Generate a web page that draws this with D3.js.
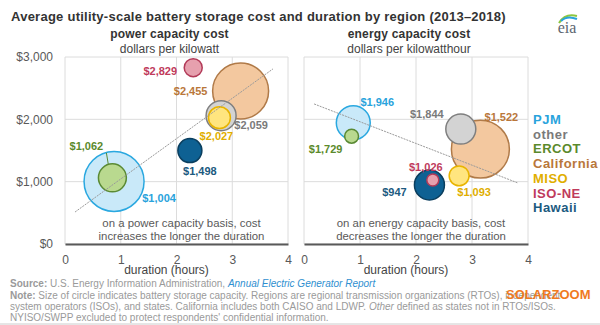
<!DOCTYPE html>
<html>
<head>
<meta charset="utf-8">
<script src="https://cdn.jsdelivr.net/npm/d3@7"></script>
<style>
  body { margin: 0; background: #fff; }
  svg { display: block; font-family: "Liberation Sans", Arial, sans-serif; }
</style>
</head>
<body>
<svg id="chart"></svg>
<script>
// data
const regions = ["PJM", "other", "ERCOT", "California", "MISO", "ISO-NE", "Hawaii"]
const duration = [0.88, 2.8, 0.85, 3.15, 2.77, 2.3, 2.24] // hours
const powerCost = [1004, 2059, 1062, 2455, 2027, 2829, 1498] // $/kW
const energyCost = [1946, 1844, 1729, 1522, 1093, 1026, 947] // $/kWh
const powerSize = [300, 75, 65, 261, 40, 27, 48] // relative capacity (bubble area)
const energySize = [96, 75, 16, 280, 33, 12, 75]
const powerTrend = [[0.18, 513], [3.73, 2809]]
const energyTrend = [[0.18, 2247], [3.82, 979]]
const xTicks = [0, 1, 2, 3, 4]
const yTicks = [0, 1000, 2000, 3000]

const fills = ["#c9e9f9", "#d3d3d3", "#b9d98f", "#f3c89f", "#ffe57f", "#e6a0ae", "#0e6193"]
const strokes = ["#2aa8e0", "#7f7f7f", "#5a8a34", "#b07a48", "#e8b400", "#b23a58", "#0a3e5e"]
const labelColors = ["#29a3dc", "#7a7a7a", "#5b8a2c", "#b9773a", "#e0ae00", "#c03b5c", "#1c5a80"]

// label offsets (px) from each bubble centre
const powerLabelOff = [[45, 17], [30, 9], [-26, -32], [-50, 0], [-3, 18], [-33, 3], [10, 20]]
const energyLabelOff = [[24, -21], [-34, -15], [-26, 13], [21, -32], [15, 16], [-7, -13], [-35, 7]]

const width = 600, height = 325
const svg = d3.select("#chart").attr("width", width).attr("height", height)

const y = d3.scaleLinear().domain([0, 3000]).range([244, 57])
const r = d3.scaleSqrt().domain([0, 300]).range([0, 30])
const money = d => "$" + d3.format(",")(d)

// title
svg.append("text").attr("x", 11).attr("y", 21)
  .attr("font-size", 13).attr("font-weight", "bold").attr("fill", "#333").attr("letter-spacing", 0.25)
  .text("Average utility-scale battery storage cost and duration by region (2013\u20132018)")

// eia logo
const logo = svg.append("g").attr("transform", "translate(567,25)")
logo.append("path").attr("d", "M-8,-2 Q-2,-12 10,-9").attr("fill", "none").attr("stroke", "#8cc63f").attr("stroke-width", 2)
logo.append("path").attr("d", "M-6,-4 Q0,-10 10,-6").attr("fill", "none").attr("stroke", "#29a3dc").attr("stroke-width", 2)
logo.append("text").attr("y", 8).attr("text-anchor", "middle")
  .attr("font-family", "Liberation Serif, serif").attr("font-size", 16).attr("fill", "#5c6670").text("eia")

function panel(x0, x1, costs, sizes, trend, offs, title, unit, note, showY) {
  const x = d3.scaleLinear().domain([0, 4]).range([x0, x1])
  const g = svg.append("g")
  const cx = (x0 + x1) / 2

  g.append("text").attr("x", cx - 7).attr("y", 38).attr("text-anchor", "middle")
    .attr("font-size", 12).attr("font-weight", "bold").attr("fill", "#333").attr("letter-spacing", 0.2).text(title)
  g.append("text").attr("x", cx - 7).attr("y", 53).attr("text-anchor", "middle")
    .attr("font-size", 12).attr("fill", "#444").text(unit)

  // grid
  g.append("g").selectAll("line").data(xTicks).join("line")
    .attr("x1", d => x(d)).attr("x2", d => x(d)).attr("y1", y(3000)).attr("y2", y(0))
    .attr("stroke", "#dcdcdc")
  g.append("g").selectAll("line").data(yTicks).join("line")
    .attr("x1", x0).attr("x2", x1).attr("y1", d => y(d)).attr("y2", d => y(d))
    .attr("stroke", "#dcdcdc")

  if (showY) {
    g.append("g").attr("transform", `translate(${x0},0)`)
      .call(d3.axisLeft(y).tickValues(yTicks).tickFormat(money).tickSize(0).tickPadding(12))
      .call(a => a.select(".domain").remove())
      .call(a => a.selectAll("text").attr("font-size", 12).attr("fill", "#595959").attr("font-family", null))
  }

  g.append("g").attr("transform", `translate(0,${y(0)})`)
    .call(d3.axisBottom(x).tickValues(xTicks).tickFormat(d3.format("d")).tickSize(0).tickPadding(11))
    .call(a => a.select(".domain").attr("stroke", "#595959").attr("stroke-width", 2))
    .call(a => a.selectAll("text").attr("font-size", 12).attr("fill", "#595959").attr("font-family", null))

  g.append("text").attr("x", cx - 10).attr("y", 274).attr("text-anchor", "middle")
    .attr("font-size", 12).attr("fill", "#444").text("duration (hours)")

  // annotation
  g.append("text").attr("x", cx + 5).attr("y", 227).attr("text-anchor", "middle")
    .attr("font-size", 11.4).attr("fill", "#595959")
    .selectAll("tspan").data(note).join("tspan")
    .attr("x", cx + 5).attr("dy", (d, i) => i ? 13 : 0).text(d => d)

  // bubbles, biggest first
  const idx = d3.range(regions.length).sort((a, b) => sizes[b] - sizes[a])
  g.append("g").selectAll("circle").data(idx).join("circle")
    .attr("cx", i => x(duration[i])).attr("cy", i => y(costs[i])).attr("r", i => r(sizes[i]))
    .attr("fill", i => fills[i]).attr("stroke", i => strokes[i]).attr("stroke-width", 1.5)

  // trend
  g.append("line")
    .attr("x1", x(trend[0][0])).attr("y1", y(trend[0][1]))
    .attr("x2", x(trend[1][0])).attr("y2", y(trend[1][1]))
    .attr("stroke", "#9a9a9a").attr("stroke-dasharray", "2,1")

  g.append("g").selectAll("text").data(d3.range(regions.length)).join("text")
    .attr("x", i => x(duration[i]) + offs[i][0]).attr("y", i => y(costs[i]) + offs[i][1] + 4)
    .attr("text-anchor", "middle").attr("font-size", 11).attr("font-weight", "bold")
    .attr("fill", i => labelColors[i]).text(i => money(costs[i]))
  return x
}

const xp = panel(65, 288, powerCost, powerSize, powerTrend, powerLabelOff,
  "power capacity cost", "dollars per kilowatt",
  ["on a power capacity basis, cost", "increases the longer the duration"], true)

// leader line for ERCOT
svg.append("line").attr("x1", xp(duration[2]) - 6).attr("y1", y(powerCost[2]) - 25)
  .attr("x2", xp(duration[2]) - 4).attr("y2", y(powerCost[2]) - 13)
  .attr("stroke", "#5a8a34")

panel(304, 528, energyCost, energySize, energyTrend, energyLabelOff,
  "energy capacity cost", "dollars per kilowatthour",
  ["on an energy capacity basis, cost", "decreases the longer the duration"], false)

// legend
svg.append("g").selectAll("text").data(regions).join("text")
  .attr("x", 533).attr("y", (d, i) => 124 + i * 14.7)
  .attr("font-size", 13).attr("font-weight", "bold").attr("letter-spacing", 0.5)
  .attr("fill", (d, i) => labelColors[i]).text(d => d)

// footer
const foot = svg.append("g").attr("font-size", 10).attr("fill", "#9a9a9a")
const src = foot.append("text").attr("x", 10).attr("y", 287)
src.append("tspan").attr("font-weight", "bold").text("Source: ")
src.append("tspan").text("U.S. Energy Information Administration, ")
src.append("tspan").attr("font-style", "italic").attr("fill", "#2f8fd0").text("Annual Electric Generator Report")
const n1 = foot.append("text").attr("x", 10).attr("y", 299)
n1.append("tspan").attr("font-weight", "bold").text("Note: ")
n1.append("tspan").text("Size of circle indicates battery storage capacity. Regions are regional transmission organizations (RTOs), independent")
const n2 = foot.append("text").attr("x", 10).attr("y", 310)
n2.append("tspan").text("system operators (ISOs), and states. California includes both CAISO and LDWP. ")
n2.append("tspan").attr("font-style", "italic").text("Other")
n2.append("tspan").text(" defined as states not in RTOs/ISOs.")
foot.append("text").attr("x", 10).attr("y", 321)
  .text("NYISO/SWPP excluded to protect respondents' confidential information.")
svg.append("line").attr("x1", 0).attr("x2", width).attr("y1", 324).attr("y2", 324).attr("stroke", "#ccc")

// watermark
svg.append("text").attr("x", 506).attr("y", 299)
  .attr("font-size", 13).attr("font-weight", "bold").attr("fill", "#f07a1e")
  .text("SOLARZOOM")
</script>
</body>
</html>
